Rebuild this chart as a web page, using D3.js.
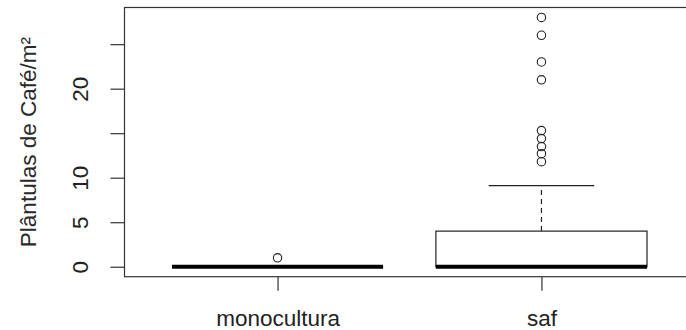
<!DOCTYPE html>
<html>
<head>
<meta charset="utf-8">
<script src="https://cdn.jsdelivr.net/npm/d3@7"></script>
<style>
  html, body { margin: 0; padding: 0; background: #fff; }
  svg { display: block; }
  text { font-family: "Liberation Sans", Arial, sans-serif; fill: #222; }
</style>
</head>
<body>
<svg id="chart" width="686" height="330"></svg>
<script>
// ---- data ----
const categories = ["monocultura", "saf"];
const whiskerLow = [0, 0];
const q1 = [0, 0];
const medians = [0, 0];
const q3 = [0, 4];
const whiskerHigh = [0, 9.1];
const outliersMonocultura = [1];
const outliersSaf = [28, 26, 23, 21, 15.3, 14.4, 13.5, 12.7, 11.8];
const yTicks = [0, 5, 10, 15, 20, 25];
const yTickLabels = ["0", "5", "10", "", "20", ""];
const yTitle = "Plântulas de Café/m²";

const outliers = [outliersMonocultura, outliersSaf];

// ---- layout ----
const svg = d3.select("#chart");
const mLeft = 124.5, mRight = 694.5, mTop = 7.5, mBottom = 276.7;
const fontSize = "22.5px";
const textColor = "#2a2a2a";

const x = d3.scaleLinear().domain([0.42, 2.58]).range([mLeft, mRight]);
const y = d3.scaleLinear().domain([-1.12, 29.12]).range([mBottom, mTop]);

const boxHalf = 0.4, capHalf = 0.2;
const ink = "#222";

// boxes
categories.forEach((c, i) => {
  const pos = i + 1;
  const g = svg.append("g");
  if (whiskerHigh[i] > q3[i]) {
    g.append("line")
      .attr("x1", x(pos)).attr("x2", x(pos))
      .attr("y1", y(q3[i])).attr("y2", y(whiskerHigh[i]))
      .attr("stroke", ink).attr("stroke-width", 1.2).attr("stroke-dasharray", "5,4");
  }
  if (whiskerLow[i] < q1[i]) {
    g.append("line")
      .attr("x1", x(pos)).attr("x2", x(pos))
      .attr("y1", y(q1[i])).attr("y2", y(whiskerLow[i]))
      .attr("stroke", ink).attr("stroke-width", 1.2).attr("stroke-dasharray", "5,4");
  }
  [whiskerHigh[i], whiskerLow[i]].forEach(v => {
    g.append("line")
      .attr("x1", x(pos - capHalf)).attr("x2", x(pos + capHalf))
      .attr("y1", y(v)).attr("y2", y(v))
      .attr("stroke", ink).attr("stroke-width", 1.2);
  });
  g.append("rect")
    .attr("x", x(pos - boxHalf)).attr("width", x(pos + boxHalf) - x(pos - boxHalf))
    .attr("y", y(q3[i])).attr("height", Math.max(0, y(q1[i]) - y(q3[i])))
    .attr("fill", "none").attr("stroke", ink).attr("stroke-width", 1.2);
  g.append("line")
    .attr("x1", x(pos - boxHalf)).attr("x2", x(pos + boxHalf))
    .attr("y1", y(medians[i])).attr("y2", y(medians[i]))
    .attr("stroke", "#000").attr("stroke-width", 4);
  g.selectAll("circle").data(outliers[i]).join("circle")
    .attr("cx", x(pos)).attr("cy", d => y(d)).attr("r", 4.2)
    .attr("fill", "none").attr("stroke", ink).attr("stroke-width", 1.1);
});

// frame
svg.append("rect")
  .attr("x", mLeft).attr("y", mTop)
  .attr("width", mRight - mLeft).attr("height", mBottom - mTop)
  .attr("fill", "none").attr("stroke", "#333").attr("stroke-width", 1.2);

// y axis
const yAxis = svg.append("g")
  .attr("transform", `translate(${mLeft},0)`)
  .call(d3.axisLeft(y).tickValues(yTicks).tickSize(14)
    .tickFormat((d, i) => yTickLabels[i]));
yAxis.select(".domain").remove();
yAxis.selectAll(".tick line").attr("stroke", "#333").attr("stroke-width", 1.2);
yAxis.selectAll(".tick text")
  .attr("x", null).attr("dy", null)
  .attr("text-anchor", "middle")
  .attr("transform", "translate(-36.5,0) rotate(-90)")
  .style("font-size", fontSize).style("font-family", "'Liberation Sans', Arial, sans-serif").attr("fill", textColor);

// x axis
const xAxis = svg.append("g")
  .attr("transform", `translate(0,${mBottom})`)
  .call(d3.axisBottom(x).tickValues([1, 2]).tickSize(14)
    .tickFormat((d, i) => categories[i]));
xAxis.select(".domain").remove();
xAxis.selectAll(".tick line").attr("stroke", "#333").attr("stroke-width", 1.2);
xAxis.selectAll(".tick text")
  .attr("y", 49.5).attr("dy", null)
  .style("font-size", fontSize).style("font-family", "'Liberation Sans', Arial, sans-serif").attr("fill", textColor);

// y title
svg.append("text")
  .attr("transform", `translate(36,${(mTop + mBottom) / 2}) rotate(-90)`)
  .attr("text-anchor", "middle")
  .style("font-size", fontSize)
  .style("fill", textColor)
  .text(yTitle);
</script>
</body>
</html>
